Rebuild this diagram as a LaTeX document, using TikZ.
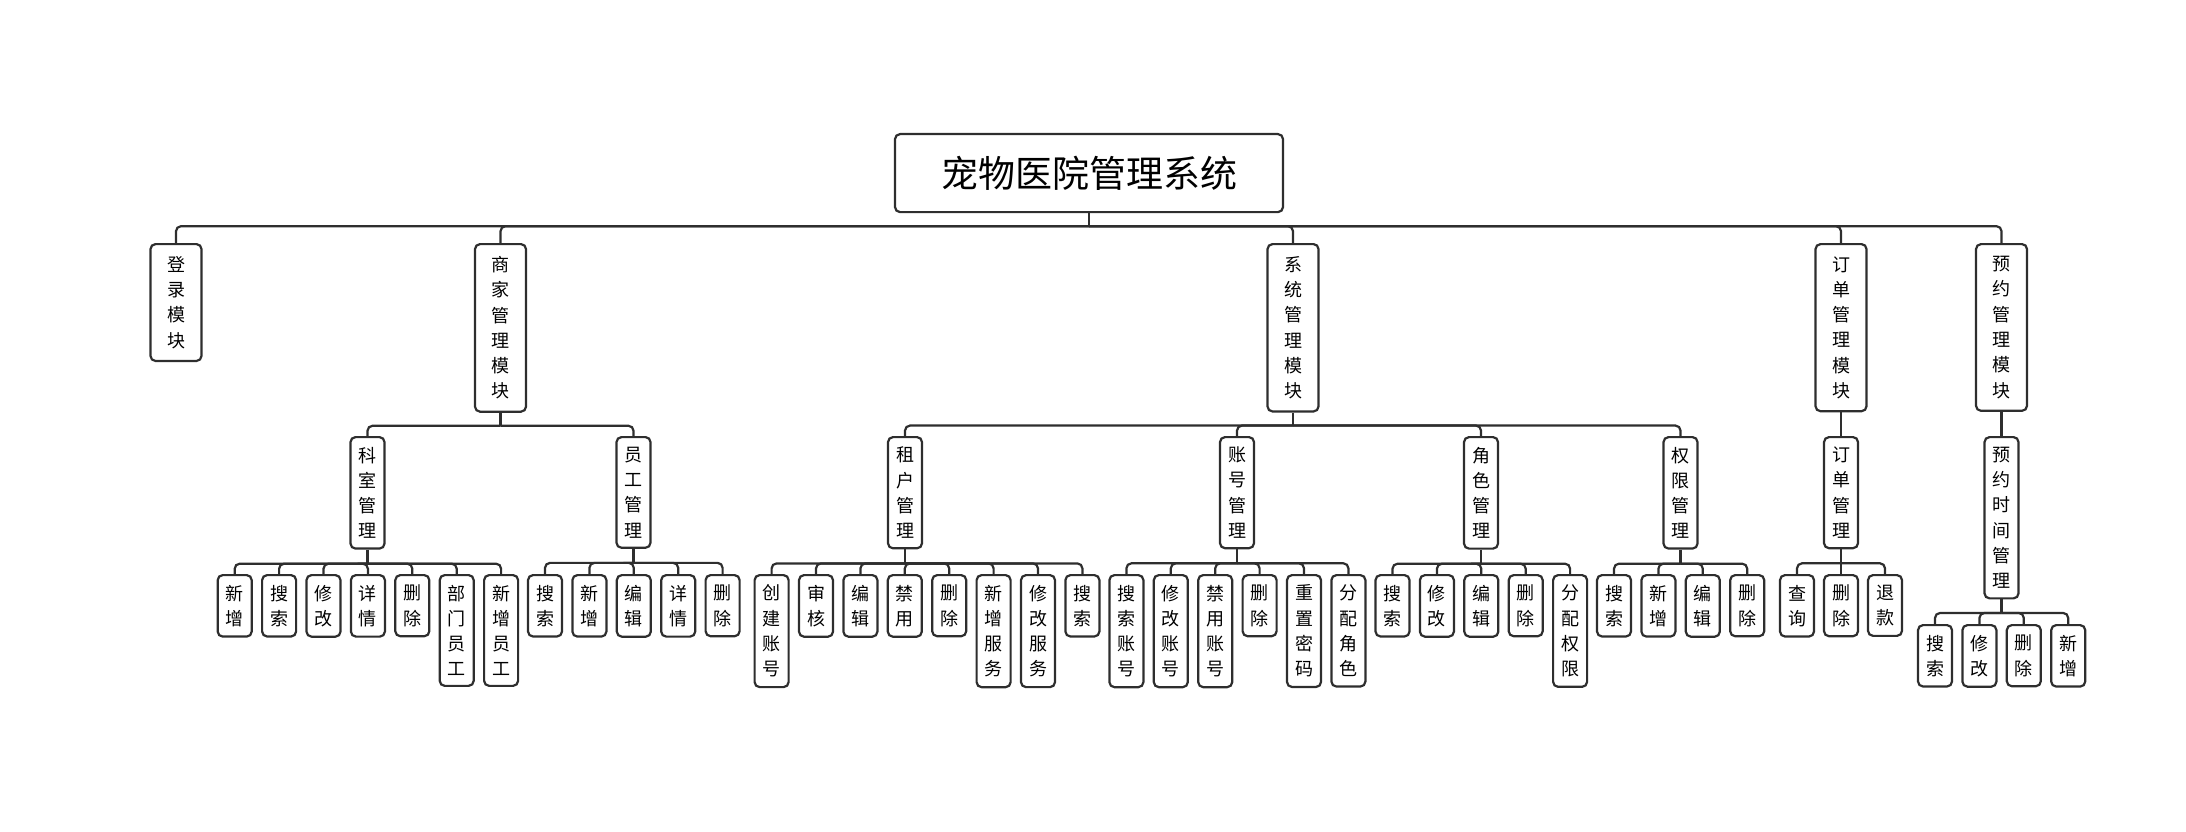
\documentclass[tikz,border=0pt]{standalone}
\usepackage{fontspec}
\newfontfamily\cjk{Noto Sans CJK SC}

\begin{document}
\begin{tikzpicture}[x=1pt,y=-1pt,
        box/.style={draw=black!82, line width=2.2pt, rounded corners=5pt, align=center, anchor=north,
            font=\cjk\fontsize{18}{25.3}\selectfont, minimum width=34pt, inner xsep=0pt, inner ysep=9.8pt},
        mod/.style={box, minimum width=51pt, inner ysep=12.2pt},
        link/.style={draw=black!82, line width=2.2pt, rounded corners=5pt}]
            \useasboundingbox (0,0) rectangle (2186,832);
            \node[box, font=\cjk\fontsize{37}{40}\selectfont, minimum width=388pt, minimum height=78pt] (root) at (1089,133) {宠物医院管理系统};
            \node[mod] (login) at (176,243) {登\\录\\模\\块};
            \node[mod] (shop) at (500.5,243) {商\\家\\管\\理\\模\\块};
            \node[mod] (sys) at (1293,243) {系\\统\\管\\理\\模\\块};
            \node[mod] (order) at (1841,243) {订\\单\\管\\理\\模\\块};
            \node[mod] (book) at (2001.5,243) {预\\约\\管\\理\\模\\块};
            \draw[link] (root.south) -- ++(0,13) coordinate (rb);
            \foreach \c in {login,shop,sys,order,book} \draw[link] (rb) -| (\c);

            \node[box] (dept) at (367.5,436) {科\\室\\管\\理};
            \node[box] (staff) at (633.5,436) {员\\工\\管\\理};
            \node[box] (tenant) at (905,436) {租\\户\\管\\理};
            \node[box] (acct) at (1237,436) {账\\号\\管\\理};
            \node[box] (role) at (1481,436) {角\\色\\管\\理};
            \node[box] (perm) at (1680.5,436) {权\\限\\管\\理};
            \node[box] (ordm) at (1841,436) {订\\单\\管\\理};
            \node[box] (time) at (2001.5,436) {预\\约\\时\\间\\管\\理};
            \draw[link] (shop.south) -- ++(0,13) coordinate (sb);
            \foreach \c in {dept,staff} \draw[link] (sb) -| (\c);
            \draw[link] (sys.south) -- ++(0,13) coordinate (yb);
            \foreach \c in {tenant,acct,role,perm} \draw[link] (yb) -| (\c);
            \draw[link] (order) -- (ordm);
            \draw[link] (book) -- (time);

            \draw[link] (dept.south) -- ++(0,14) coordinate (db);
            \foreach \t [count=\i] in {{新\\增},{搜\\索},{修\\改},{详\\情},{删\\除},{部\\门\\员\\工},{新\\增\\员\\工}} {
                \node[box] (d\i) at ({234.7+44.4*(\i-1)},574) {\t};
                \draw[link] (db) -| (d\i);
            }
            \draw[link] (staff.south) -- ++(0,14) coordinate (fb);
            \foreach \t [count=\i] in {{搜\\索},{新\\增},{编\\辑},{详\\情},{删\\除}} {
                \node[box] (f\i) at ({545+44.4*(\i-1)},574) {\t};
                \draw[link] (fb) -| (f\i);
            }
            \draw[link] (tenant.south) -- ++(0,14) coordinate (tb);
            \foreach \t [count=\i] in {{创\\建\\账\\号},{审\\核},{编\\辑},{禁\\用},{删\\除},{新\\增\\服\\务},{修\\改\\服\\务},{搜\\索}} {
                \node[box] (t\i) at ({771.6+44.4*(\i-1)},574) {\t};
                \draw[link] (tb) -| (t\i);
            }
            \draw[link] (acct.south) -- ++(0,14) coordinate (ab);
            \foreach \t [count=\i] in {{搜\\索\\账\\号},{修\\改\\账\\号},{禁\\用\\账\\号},{删\\除},{重\\置\\密\\码},{分\\配\\角\\色}} {
                \node[box] (a\i) at ({1126.4+44.4*(\i-1)},574) {\t};
                \draw[link] (ab) -| (a\i);
            }
            \draw[link] (role.south) -- ++(0,14) coordinate (ob);
            \foreach \t [count=\i] in {{搜\\索},{修\\改},{编\\辑},{删\\除},{分\\配\\权\\限}} {
                \node[box] (o\i) at ({1392.5+44.4*(\i-1)},574) {\t};
                \draw[link] (ob) -| (o\i);
            }
            \draw[link] (perm.south) -- ++(0,14) coordinate (pb);
            \foreach \t [count=\i] in {{搜\\索},{新\\增},{编\\辑},{删\\除}} {
                \node[box] (p\i) at ({1614+44.4*(\i-1)},574) {\t};
                \draw[link] (pb) -| (p\i);
            }
            \draw[link] (ordm.south) -- ++(0,14) coordinate (qb);
            \foreach \t [count=\i] in {{查\\询},{删\\除},{退\\款}} {
                \node[box] (q\i) at ({1797+44*(\i-1)},574) {\t};
                \draw[link] (qb) -| (q\i);
            }
            \draw[link] (time.south) -- ++(0,13.5) coordinate (mb);
            \foreach \t [count=\i] in {{搜\\索},{修\\改},{删\\除},{新\\增}} {
                \node[box] (m\i) at ({1935+44.4*(\i-1)},624) {\t};
                \draw[link] (mb) -| (m\i);
            }
        \end{tikzpicture}
\end{document}
